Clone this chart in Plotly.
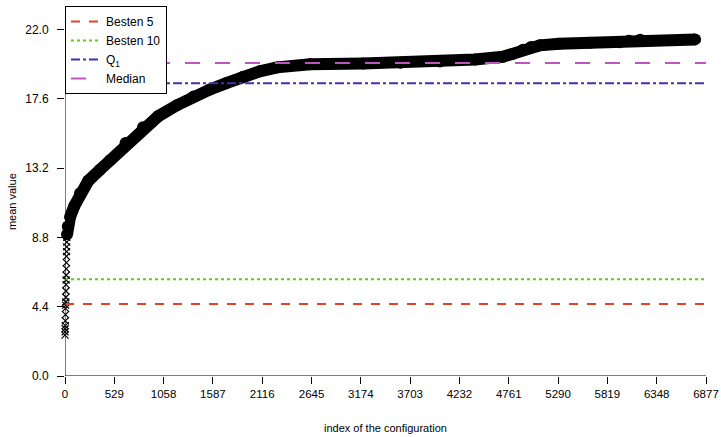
import plotly.graph_objects as go

# ---- data ----
start_idx = list(range(0, 22))
start_vals = [2.6, 2.8, 3.0, 3.2, 3.5, 3.9, 4.3, 4.5, 4.7, 5.0, 5.4, 5.8,
              6.1, 6.4, 6.8, 7.2, 7.6, 7.9, 8.2, 8.5, 8.8, 9.0]

curve_idx = [22, 30, 54, 100, 161, 250, 375, 483, 650, 837, 1000, 1202, 1380,
             1556, 1730, 1910, 2090, 2275, 2630, 3200, 3600, 4023, 4400,
             4699, 4800, 4914, 5000, 5096, 5300, 5633, 5950, 6050, 6170, 6760]
curve_vals = [9.0, 9.5, 10.1, 10.8, 11.6, 12.4, 13.1, 13.7, 14.8, 15.8, 16.5,
              17.2, 17.75, 18.2, 18.6, 19.0, 19.35, 19.6, 19.8, 19.85, 19.9,
              19.97, 20.1, 20.28, 20.45, 20.72, 20.9, 21.0, 21.1, 21.17, 21.2,
              21.3, 21.36, 21.38]

ref_names = ["Besten 5", "Besten 10", "Q<sub>1</sub>", "Median"]
ref_values = [4.58, 6.15, 18.6, 19.88]
ref_colors = ["#E8412B", "#62CC1E", "#4A2DAE", "#BE55BE"]
ref_dash = ["dash", "dot", "dashdot", "longdash"]

x_ticks = [0, 529, 1058, 1587, 2116, 2645, 3174, 3703, 4232, 4761, 5290,
           5819, 6348, 6877]
y_ticks = [0.0, 4.4, 8.8, 13.2, 17.6, 22.0]

X_MAX = 6877
Y_MAX = 23.5

fig = go.Figure()

# thick curve
fig.add_trace(go.Scatter(
    x=curve_idx, y=curve_vals, mode="lines+markers",
    line=dict(color="black", width=12),
    marker=dict(color="black", size=12),
    cliponaxis=False, showlegend=False, hoverinfo="skip"))

# first points drawn as crosses
fig.add_trace(go.Scatter(
    x=start_idx, y=start_vals, mode="markers",
    marker=dict(symbol="x-thin", size=7, color="black",
                line=dict(color="black", width=1.2)),
    cliponaxis=False, showlegend=False, hoverinfo="skip"))

# reference lines
for name, val, col, dash in zip(ref_names, ref_values, ref_colors, ref_dash):
    fig.add_trace(go.Scatter(
        x=[0, X_MAX], y=[val, val], mode="lines", name=name,
        line=dict(color=col, width=2, dash=dash), hoverinfo="skip"))

# R-style axis lines (span only the tick range)
fig.add_shape(type="line", xref="x", yref="y", x0=0, x1=0,
              y0=y_ticks[0], y1=y_ticks[-1], line=dict(color="black", width=1))
fig.add_shape(type="line", xref="x", yref="y", x0=x_ticks[0], x1=x_ticks[-1],
              y0=0, y1=0, line=dict(color="black", width=1))

fig.update_layout(
    width=721, height=437,
    margin=dict(l=65, r=15, t=6, b=61, autoexpand=False),
    paper_bgcolor="white", plot_bgcolor="white",
    font=dict(family="Liberation Sans, Arial, sans-serif", size=12, color="black"),
    legend=dict(x=0, y=1, xanchor="left", yanchor="top",
                bordercolor="black", borderwidth=1, bgcolor="white",
                font=dict(size=12), tracegroupgap=0, itemwidth=30),
    xaxis=dict(range=[0, X_MAX], tickvals=x_ticks,
               ticktext=[str(v) for v in x_ticks],
               ticks="outside", ticklen=7, tickcolor="black",
               showgrid=False, zeroline=False, showline=False,
               automargin=False, tickfont=dict(size=11.5)),
    yaxis=dict(range=[0, Y_MAX], tickvals=y_ticks,
               ticktext=["%.1f" % v for v in y_ticks],
               ticks="outside", ticklen=7, tickcolor="black",
               ticklabelstandoff=6,
               showgrid=False, zeroline=False, showline=False,
               automargin=False, tickfont=dict(size=12)),
    annotations=[
        dict(text="index of the configuration", xref="paper", yref="paper",
             x=0.5, y=0, yshift=-52, showarrow=False,
             font=dict(size=11), xanchor="center", yanchor="middle"),
        dict(text="mean value", xref="paper", yref="paper",
             x=0, xshift=-53, y=0.47, showarrow=False, textangle=-90,
             font=dict(size=11), xanchor="center", yanchor="middle"),
    ],
)

fig.write_html("out.html",
               config={"displayModeBar": False},
               post_script="document.body.style.margin='0';document.body.style.padding='0';")
